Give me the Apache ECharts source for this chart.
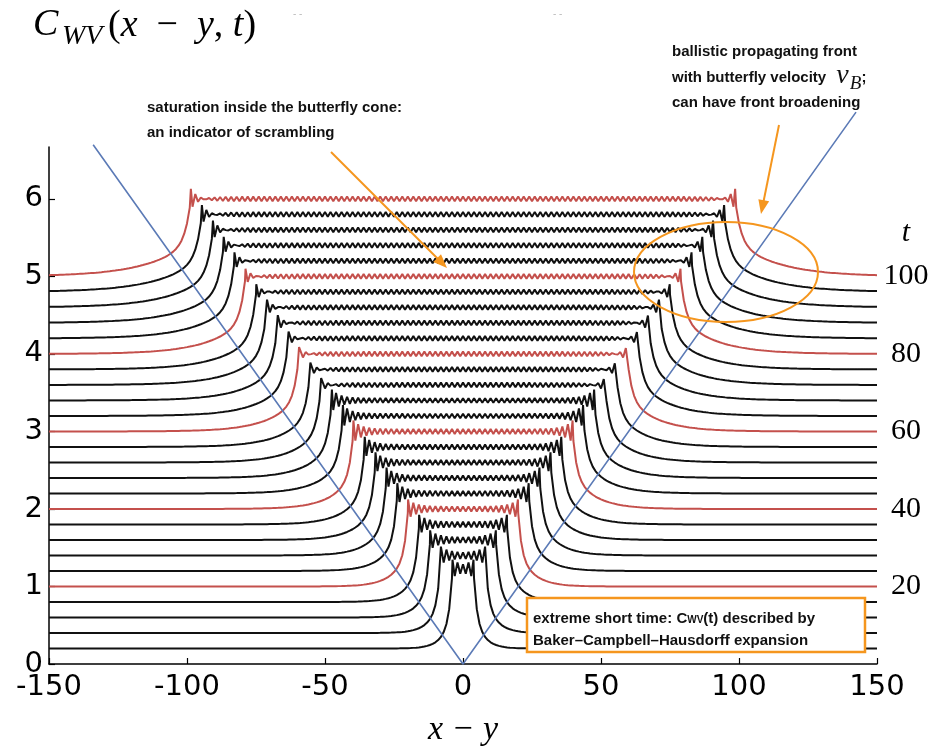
<!DOCTYPE html>
<html>
<head>
<meta charset="utf-8">
<script src="https://cdn.jsdelivr.net/npm/echarts@6/dist/echarts.min.js"></script>
<style>
  html, body { margin: 0; padding: 0; background: #fff; }
  #chart { width: 935px; height: 749px; }
</style>
</head>
<body>
<div id="chart"></div>
<script>
// Times at which the out-of-time-order correlator profile is drawn
const times = [4, 8, 12, 16, 20, 24, 28, 32, 36, 40, 44, 48, 52, 56, 60, 64, 68, 72, 76, 80, 84, 88, 92, 96, 100];
// Vertical offset of each profile (stacked by t / 20)
const offsets = [0.2, 0.4, 0.6, 0.8, 1.0, 1.2, 1.4, 1.6, 1.8, 2.0, 2.2, 2.4, 2.6, 2.8, 3.0, 3.2, 3.4, 3.6, 3.8, 4.0, 4.2, 4.4, 4.6, 4.8, 5.0];
// Position |x - y| of the ballistic front at each time
const fronts = [3.8, 8.0, 11.9, 15.9, 19.9, 23.8, 27.7, 31.7, 35.6, 39.7, 43.5, 47.5, 51.4, 55.3, 59.4, 63.2, 67.1, 71.0, 74.9, 78.8, 82.8, 86.7, 90.6, 94.6, 98.6];
// Saturated value inside the cone, above the offset
const plateaus = [1.03, 1.0, 1.0, 1.0, 1.0, 1.0, 1.0, 1.0, 1.0, 1.0, 1.0, 1.0, 1.0, 1.0, 1.0, 1.0, 1.0, 1.0, 1.0, 1.0, 1.0, 1.0, 1.0, 1.0, 1.0];
// Overshoot right behind the front
const spikes = [0.08, 0.08, 0.09, 0.09, 0.09, 0.10, 0.10, 0.10, 0.10, 0.11, 0.11, 0.11, 0.12, 0.12, 0.12, 0.12, 0.13, 0.13, 0.13, 0.13, 0.14, 0.14, 0.15, 0.15, 0.16];
// Width of the slow tail ahead of the front (front broadening)
const tailWidths = [3.5, 4.0, 4.5, 5.0, 5.5, 6.0, 6.5, 7.0, 7.5, 8.0, 8.5, 9.0, 9.5, 10.0, 10.5, 11.0, 11.5, 12.0, 12.5, 13.0, 13.5, 14.0, 14.5, 15.0, 15.5];
// Even/odd site ripple inside the cone
const ripples = [0.035, 0.035, 0.035, 0.035, 0.033, 0.033, 0.033, 0.032, 0.032, 0.032, 0.03, 0.03, 0.03, 0.03, 0.03, 0.03, 0.03, 0.03, 0.03, 0.03, 0.03, 0.03, 0.03, 0.03, 0.03];
// Right-hand time labels and the offsets they sit on
const timeLabels = [20, 40, 60, 80, 100];
const timeLabelOffsets = [1, 2, 3, 4, 5];
// Light cone |x - y| = v_B t
const coneX = [-134, 0, 142.4];
const coneY = [6.7, 0, 7.12];
// Left axis ticks
const yTicks = [0, 1, 2, 3, 4, 5, 6];

const BLACK = '#111111';
const RED = '#c4504c';
const BLUE = '#5b7ab6';
const ORANGE = '#f5961e';
const SANS = "'Liberation Sans', Arial, sans-serif";
const SERIF = "'Liberation Serif', 'Times New Roman', serif";
const TICKFONT = "'DejaVu Sans', sans-serif";

// Lattice profile of one time slice: tail outside the cone, plateau with
// an even/odd ripple on the sites inside it
function profile(i) {
  const b = offsets[i], xf = fronts[i], h = plateaus[i], s = spikes[i];
  const w2 = tailWidths[i], w1 = 1 + 0.01 * times[i], r = ripples[i];
  const xs = [];
  for (let k = -150; k <= 150; k++) xs.push(k);
  xs.push(-xf, xf);
  xs.sort((a, c) => a - c);
  return xs.map(x => {
    const d = Math.abs(x) - xf;
    let y;
    if (d > 1e-9) {
      y = b + h * (0.55 * Math.exp(-d / w1) + 0.45 * Math.exp(-d / w2));
    } else {
      const u = -d;
      const site = Math.round(Math.abs(x)) % 2 === 0 ? 1 : -1;
      y = b + h + s * Math.exp(-u / 3) * (u < 0.5 ? 1 : site * (Math.round(xf) % 2 === 0 ? 1 : -1)) + r * site;
    }
    return [x, y];
  });
}

const series = times.map((t, i) => ({
  type: 'line',
  data: profile(i),
  showSymbol: false,
  silent: true,
  lineStyle: { color: t % 20 === 0 ? RED : BLACK, width: 2 },
  z: 2
}));

series.push({
  type: 'line',
  data: coneX.map((x, i) => [x, coneY[i]]),
  showSymbol: false,
  clip: false,
  silent: true,
  lineStyle: { color: BLUE, width: 1.6 },
  z: 3
});

function arrow(x1, y1, x2, y2) {
  const dx = x2 - x1, dy = y2 - y1, L = Math.hypot(dx, dy);
  const ux = dx / L, uy = dy / L, len = 14, hw = 5.5;
  const bx = x2 - ux * len, by = y2 - uy * len;
  return [
    { type: 'line', z: 50, shape: { x1, y1, x2: bx + ux * 2, y2: by + uy * 2 }, style: { stroke: ORANGE, lineWidth: 2 } },
    { type: 'polygon', z: 50, shape: { points: [[x2, y2], [bx - uy * hw, by + ux * hw], [bx + uy * hw, by - ux * hw]] }, style: { fill: ORANGE } }
  ];
}

const graphics = [
  // Title C_WV(x - y, t)
  { type: 'text', x: 33, y: 25, z: 60, style: { text: 'C', font: 'italic 38px ' + SERIF, fill: '#000', verticalAlign: 'middle' } },
  { type: 'text', x: 62, y: 37, z: 60, style: { text: 'WV', font: 'italic 28px ' + SERIF, fill: '#000', verticalAlign: 'middle' } },
  { type: 'text', x: 108, y: 26, z: 60, style: {
      text: '{p|(}{i|x}{p|\u2002−\u2002}{i|y}{p|, }{i|t}{p|)}', verticalAlign: 'middle',
      rich: { p: { font: '38px ' + SERIF, fill: '#000' }, i: { font: 'italic 38px ' + SERIF, fill: '#000' } }
  } },
  // faint marks along the top edge
  { type: 'text', x: 293, y: 14, z: 60, style: { text: '- -', font: '10px ' + SANS, fill: '#bbbbbb', verticalAlign: 'middle' } },
  { type: 'text', x: 553, y: 14, z: 60, style: { text: '- -', font: '10px ' + SANS, fill: '#bbbbbb', verticalAlign: 'middle' } },
  // axis title
  { type: 'text', x: 463, y: 730, z: 60, style: { text: 'x − y', font: 'italic 34px ' + SERIF, fill: '#000', align: 'center', verticalAlign: 'middle' } },
  // t label over the right-hand time labels
  { type: 'text', x: 906, y: 233, z: 60, style: { text: 't', font: 'italic 30px ' + SERIF, fill: '#000', align: 'center', verticalAlign: 'middle' } },
  // saturation note
  { type: 'text', x: 147, y: 120, z: 60, style: {
      text: 'saturation inside the butterfly cone:\nan indicator of scrambling',
      font: 'bold 15px ' + SANS, fill: '#111', lineHeight: 25, verticalAlign: 'middle'
  } },
  // front note
  { type: 'text', x: 672, y: 52, z: 60, style: { text: 'ballistic propagating front', font: 'bold 15px ' + SANS, fill: '#111', verticalAlign: 'middle' } },
  { type: 'text', x: 672, y: 78, z: 60, style: {
      text: '{b|with butterfly velocity }{v|v}{s|B}{b|;}', verticalAlign: 'middle',
      rich: {
        b: { font: 'bold 15px ' + SANS, fill: '#111', lineHeight: 30, verticalAlign: 'middle' },
        v: { font: 'italic 28px ' + SERIF, fill: '#111', lineHeight: 30, verticalAlign: 'middle', padding: [0, 1, 4, 6] },
        s: { font: 'italic 19px ' + SERIF, fill: '#111', lineHeight: 30, verticalAlign: 'bottom' }
      }
  } },
  { type: 'text', x: 672, y: 103, z: 60, style: { text: 'can have front broadening', font: 'bold 15px ' + SANS, fill: '#111', verticalAlign: 'middle' } },
  // broadening ellipse
  { type: 'ellipse', z: 50, shape: { cx: 726, cy: 272, rx: 92, ry: 50 }, style: { fill: null, stroke: ORANGE, lineWidth: 2 } },
  // short-time box
  { type: 'rect', z: 55, shape: { x: 527, y: 598, width: 338, height: 54 }, style: { fill: '#fff', stroke: ORANGE, lineWidth: 2.5 } },
  { type: 'text', x: 533, y: 626, z: 60, style: {
      text: '{b|extreme short time: C}{s|WV}{b|(t) described by}\n{b|Baker–Campbell–Hausdorff expansion}',
      verticalAlign: 'middle',
      rich: {
        b: { font: 'bold 15px ' + SANS, fill: '#111', lineHeight: 22, verticalAlign: 'bottom' },
        s: { font: 'bold 10px ' + SANS, fill: '#111', lineHeight: 22, verticalAlign: 'bottom', padding: [0, 0, 1, 0] }
      }
  } }
].concat(arrow(331, 152, 447, 268), arrow(779, 125, 761, 214));

const chart = echarts.init(document.getElementById('chart'), null, { renderer: 'canvas' });
chart.setOption({
  animation: false,
  backgroundColor: '#fff',
  grid: { left: 49, right: 58, top: 147, bottom: 85, containLabel: false, outerBoundsMode: 'none' },
  xAxis: {
    type: 'value', min: -150, max: 150, interval: 50,
    axisLine: { show: true, onZero: false, lineStyle: { color: '#000', width: 1.5 } },
    axisTick: { show: true, inside: true, length: 6, lineStyle: { color: '#000', width: 1.2 } },
    axisLabel: { color: '#000', fontFamily: TICKFONT, fontSize: 29, margin: 9 },
    splitLine: { show: false }
  },
  yAxis: [{
    type: 'value', min: 0, max: 6.67,
    axisLine: { show: true, onZero: false, lineStyle: { color: '#000', width: 1.5 } },
    axisTick: { show: true, inside: true, length: 6, customValues: yTicks, lineStyle: { color: '#000', width: 1.2 } },
    axisLabel: { color: '#000', fontFamily: TICKFONT, fontSize: 29, margin: 6, customValues: yTicks },
    splitLine: { show: false }
  }, {
    type: 'value', min: 0, max: 6.67, position: 'right',
    axisLine: { show: false, onZero: false }, axisTick: { show: false }, splitLine: { show: false },
    axisLabel: {
      customValues: timeLabelOffsets,
      formatter: v => String(timeLabels[timeLabelOffsets.indexOf(v)]),
      color: '#000', fontFamily: SERIF, fontSize: 30, align: 'center', margin: 29, padding: [0, 0, 8, 0]
    }
  }],
  series: series,
  graphic: graphics
});
</script>
</body>
</html>
